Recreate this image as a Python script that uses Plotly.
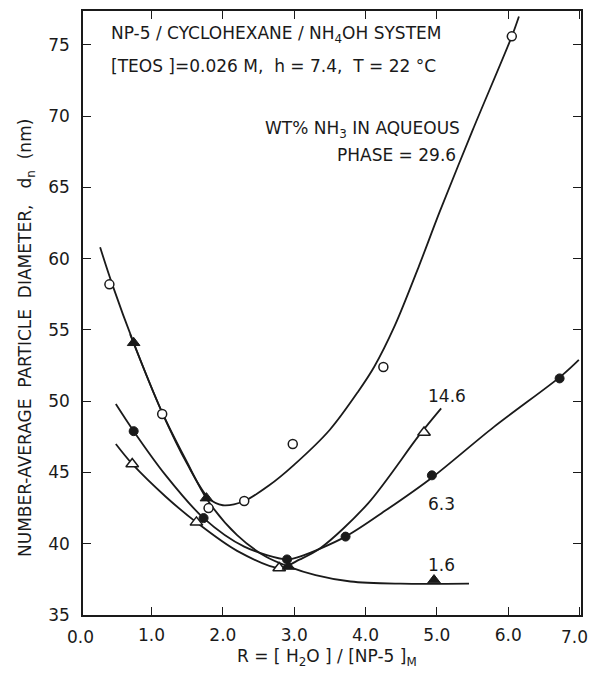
import plotly.graph_objects as go

# ---- data ----
# measured points (R, d_n in nm)
r_296 = [0.41, 1.15, 1.80, 2.30, 2.98, 4.25, 6.05]
d_296 = [58.2, 49.1, 42.5, 43.0, 47.0, 52.4, 75.6]

r_146 = [0.73, 1.63, 2.79, 4.82]
d_146 = [45.6, 41.5, 38.3, 47.8]

r_63 = [0.75, 1.73, 2.90, 3.72, 4.93, 6.72]
d_63 = [47.9, 41.8, 38.9, 40.5, 44.8, 51.6]

r_16 = [0.75, 1.77, 2.92, 4.96]
d_16 = [54.1, 43.2, 38.4, 37.45]

# hand-drawn fitted curves
cr_296 = [0.28, 0.45, 0.75, 1.15, 1.50, 1.80, 2.00, 2.30, 2.65, 2.99, 3.50, 3.90, 4.12, 4.41, 4.75, 5.04, 5.50, 6.05, 6.15]
cd_296 = [60.8, 58.2, 54.1, 49.2, 45.6, 43.2, 42.7, 43.0, 44.1, 45.5, 48.0, 50.7, 52.4, 55.3, 59.5, 63.3, 69.0, 75.6, 77.0]

cr_16 = [0.70, 1.15, 1.50, 1.78, 2.20, 2.60, 2.92, 3.30, 3.79, 4.49, 5.45]
cd_16 = [54.7, 49.2, 45.7, 43.1, 40.6, 39.1, 38.4, 37.8, 37.35, 37.2, 37.2]

cr_63 = [0.50, 0.75, 1.20, 1.73, 2.30, 2.90, 3.08, 3.72, 4.30, 4.92, 5.80, 6.75, 6.99]
cd_63 = [49.8, 47.9, 44.8, 41.8, 39.8, 38.9, 39.1, 40.5, 42.4, 44.6, 48.2, 51.8, 52.9]

cr_146 = [0.50, 0.73, 1.20, 1.63, 2.20, 2.79, 3.08, 3.37, 4.03, 4.75, 5.06]
cd_146 = [47.0, 45.6, 43.3, 41.5, 39.5, 38.3, 38.9, 39.7, 42.8, 47.6, 49.5]

x_ticks = [1, 2, 3, 4, 5, 6, 7]
x_tick_text = ["1.0", "2.0", "3.0", "4.0", "5.0", "6.0", ""]
edge_labels = {0.0: "0.0", 7.0: "7.0"}
y_ticks = [35, 40, 45, 50, 55, 60, 65, 70, 75]
x_range = [0.04, 7.02]

FONT = "DejaVu Sans"
INK = "#1a1a1a"

fig = go.Figure()

for cx, cy in [(cr_296, cd_296), (cr_16, cd_16), (cr_63, cd_63), (cr_146, cd_146)]:
    fig.add_trace(go.Scatter(x=cx, y=cy, mode="lines",
                             line=dict(color=INK, width=1.8, shape="spline", smoothing=0.9),
                             hoverinfo="skip", showlegend=False))

fig.add_trace(go.Scatter(x=r_296, y=d_296, mode="markers", showlegend=False,
                         marker=dict(symbol="circle", size=9, color="white", line=dict(color=INK, width=1.5))))
fig.add_trace(go.Scatter(x=r_146, y=d_146, mode="markers", showlegend=False,
                         marker=dict(symbol="triangle-up", size=11, color="white", line=dict(color=INK, width=1.5))))
fig.add_trace(go.Scatter(x=r_63, y=d_63, mode="markers", showlegend=False,
                         marker=dict(symbol="circle", size=9, color=INK, line=dict(color=INK, width=1))))
fig.add_trace(go.Scatter(x=r_16, y=d_16, mode="markers", showlegend=False,
                         marker=dict(symbol="triangle-up", size=11, color=INK, line=dict(color=INK, width=1))))

annots = [
    dict(x=0.40, y=75.7, text="NP-5 / CYCLOHEXANE / NH<sub>4</sub>OH SYSTEM", xanchor="left"),
    dict(x=0.40, y=73.5, text="[TEOS ]=0.026 M,  h = 7.4,  T = 22 °C", xanchor="left"),
    dict(x=5.35, y=69.1, text="WT% NH<sub>3</sub> IN AQUEOUS", xanchor="right"),
    dict(x=5.29, y=67.3, text="PHASE = 29.6", xanchor="right"),
    dict(x=5.14, y=50.4, text="14.6", xanchor="center"),
    dict(x=5.07, y=42.8, text="6.3", xanchor="center"),
    dict(x=5.07, y=38.5, text="1.6", xanchor="center"),
]
for a in annots:
    fig.add_annotation(xref="x", yref="y", showarrow=False, yanchor="middle",
                       font=dict(family=FONT, size=17, color=INK), **a)

# axis titles
fig.add_annotation(xref="paper", yref="paper", x=-0.112, y=0.459, showarrow=False, textangle=-90,
                   text="NUMBER-AVERAGE  PARTICLE  DIAMETER,   d<sub>n</sub>  (nm)",
                   font=dict(family=FONT, size=17, color=INK), xanchor="center", yanchor="middle")
fig.add_annotation(xref="paper", yref="paper", x=0.49, y=-0.071, showarrow=False,
                   text="R = [ H<sub>2</sub>O ] / [NP-5 ]<sub>M</sub>",
                   font=dict(family=FONT, size=17, color=INK), xanchor="center", yanchor="middle")

axis_common = dict(showline=True, linecolor=INK, linewidth=1.5, mirror="ticks", ticks="inside",
                   ticklen=8, tickwidth=1.3, tickcolor=INK, showgrid=False, zeroline=False,
                   ticklabeloverflow="allow",
                   tickfont=dict(family=FONT, size=17, color=INK))

fig.update_xaxes(range=x_range, tickvals=x_ticks, ticktext=x_tick_text, ticklabelstandoff=4, **axis_common)
fig.update_yaxes(range=[35, 77.38], tickvals=y_ticks, ticklabelstandoff=8, **axis_common)

# labels at the two ends of the x axis
for xv, txt in edge_labels.items():
    xp = (xv - x_range[0]) / (x_range[1] - x_range[0])
    anchor = "center" if xv == 0.0 else "right"
    xshift = 0 if xv == 0.0 else 10
    fig.add_annotation(xref="paper", yref="paper", x=xp, y=0, yshift=-22, xshift=xshift, showarrow=False,
                       text=txt, font=dict(family=FONT, size=17, color=INK),
                       xanchor=anchor, yanchor="middle")

fig.update_layout(width=592, height=693, margin=dict(l=83, r=11, t=9, b=78),
                  plot_bgcolor="white", paper_bgcolor="white")

fig.write_html("out.html", config={"displayModeBar": False},
               post_script="document.body.style.margin='0';document.body.style.overflow='hidden';")
